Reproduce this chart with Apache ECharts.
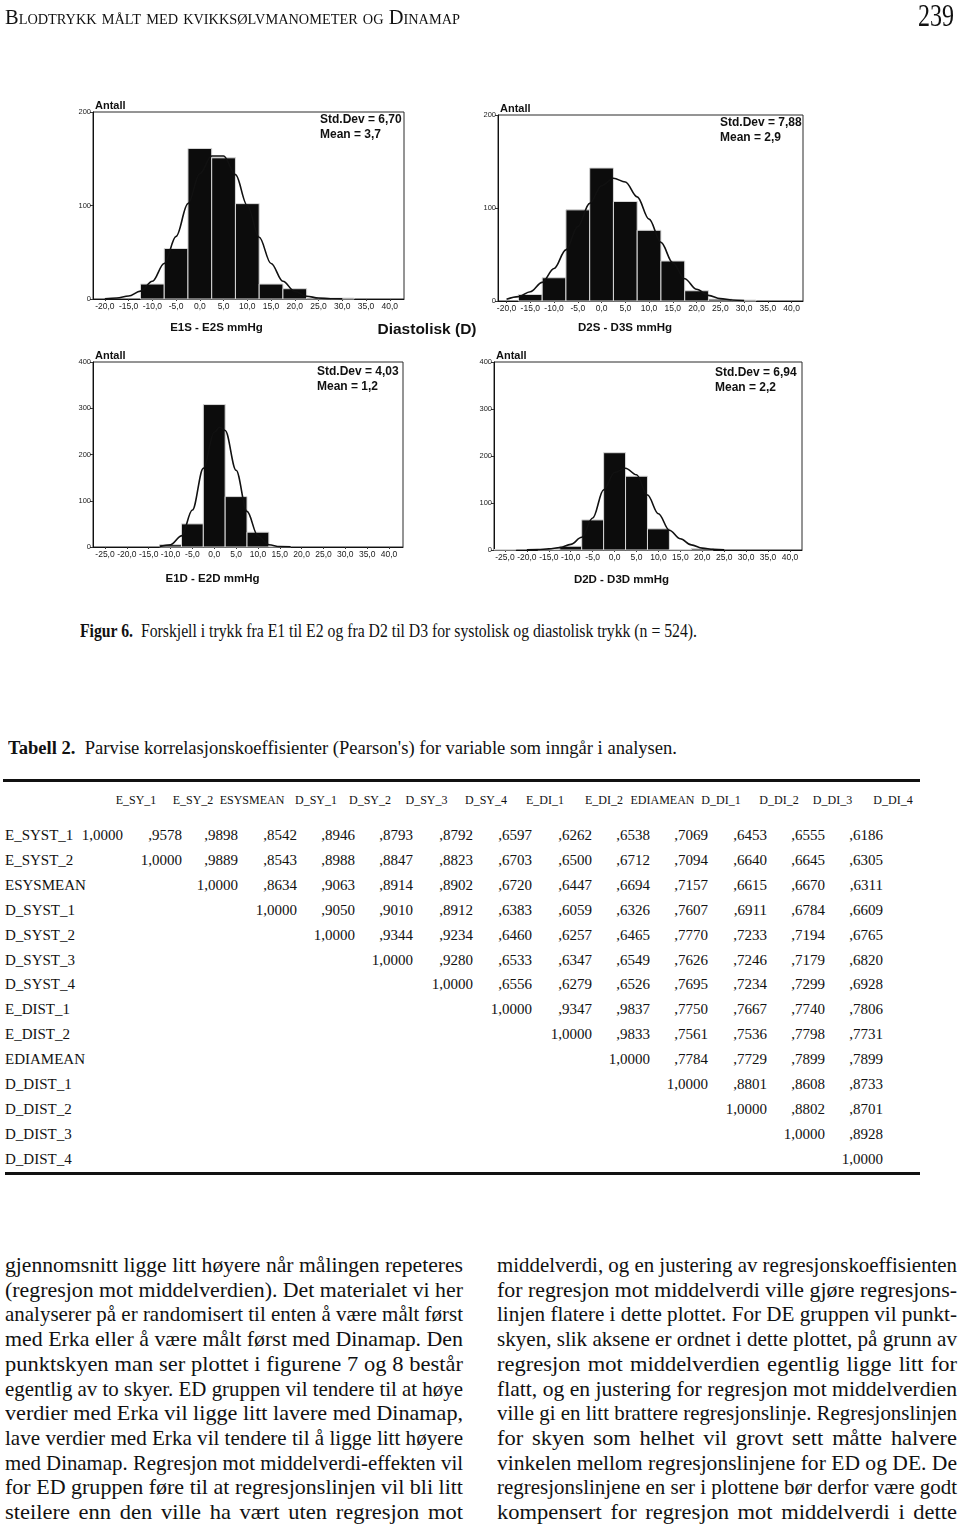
<!DOCTYPE html>
<html><head><meta charset="utf-8">
<script src="https://cdn.jsdelivr.net/npm/echarts@6/dist/echarts.min.js"></script>
<style>
html,body{margin:0;padding:0;background:#fff;}
body{width:960px;height:1527px;position:relative;overflow:hidden;font-family:"Liberation Serif","Times New Roman",serif;color:#111;}
#chart{position:absolute;left:0;top:0;width:960px;height:600px;}
.t{position:absolute;white-space:nowrap;}
.rule{position:absolute;background:#111;}
</style></head><body>
<div id="chart"></div>
<script>
// ---------------- DATA ----------------
const binWidth = 5;
const ticksA = [-20,-15,-10,-5,0,5,10,15,20,25,30,35,40];
const ticksB = [-25,-20,-15,-10,-5,0,5,10,15,20,25,30,35,40];

const e1sBins   = [-10,-5,0,5,10,15,20,25,30];
const e1sCounts = [16,54,161,151,102,16,11,1,1];
const e1sCurveX = [-20,-17.5,-15,-12.5,-10,-7.5,-5,-2.5,0,2.5,5,7.5,10,12.5,15,17.5,20,22.5,25,27.5,30];
const e1sCurveY = [0.3,1,3.2,8.4,19,38,67,102,134,153,153,133,100,66,38,19,8,3,1,0.3,0.1];
const e1sStats  = ['Std.Dev = 6,70','Mean = 3,7'];

const d2sBins   = [-15,-10,-5,0,5,10,15,20,25,30];
const d2sCounts = [7,25,98,143,107,76,43,11,2,1];
const d2sCurveX = [-20,-17.5,-15,-12.5,-10,-7.5,-5,-2.5,0,2.5,5,7.5,10,12.5,15,17.5,20,22.5,25,27.5,30];
const d2sCurveY = [2,4.7,10,20,35,55,80,105,124,132,128,112,88,63,41,24,12.6,6,2.6,1,0.4];
const d2sStats  = ['Std.Dev = 7,88','Mean = 2,9'];

const e1dBins   = [-10,-5,0,5,10,15];
const e1dCounts = [5,50,308,109,32,1];
const e1dCurveX = [-12.5,-10,-7.5,-5,-2.5,0,1.25,2.5,5,7.5,10,12.5,15,17.5];
const e1dCurveY = [0.8,5,24,80,170,248,259,252,166,77,24,5,0.8,0.2];
const e1dStats  = ['Std.Dev = 4,03','Mean = 1,2'];

const d2dBins   = [-25,-15,-10,-5,0,5,10,15,20];
const d2dCounts = [1,1,8,64,207,157,45,1,3];
const d2dCurveX = [-20,-17.5,-15,-12.5,-10,-7.5,-5,-2.5,0,2.5,5,7.5,10,12.5,15,17.5,20,22.5,25];
const d2dCurveY = [0.5,1,2.5,5,12,27,68,128,165,174,160,117,77,42,24,11,4,1.5,0.5];
const d2dStats  = ['Std.Dev = 6,94','Mean = 2,2'];

const axisTitles = ['E1S - E2S mmHg','D2S - D3S mmHg','E1D - E2D mmHg','D2D - D3D mmHg'];
const yName = 'Antall';
const middleLabel = 'Diastolisk (D)';

const headerTitle = 'Blodtrykk målt med kvikksølvmanometer og Dinamap';
const pageNumber = '239';
const figCaptionBold = 'Figur 6.';
const figCaptionText = 'Forskjell i trykk fra E1 til E2 og fra D2 til D3 for systolisk og diastolisk trykk (n = 524).';
const tabCaptionBold = 'Tabell 2.';
const tabCaptionText = "Parvise korrelasjonskoeffisienter (Pearson's) for variable som inngår i analysen.";

const colHeads = ['E_SY_1','E_SY_2','ESYSMEAN','D_SY_1','D_SY_2','D_SY_3','D_SY_4','E_DI_1','E_DI_2','EDIAMEAN','D_DI_1','D_DI_2','D_DI_3','D_DI_4'];
const rowHeads = ['E_SYST_1','E_SYST_2','ESYSMEAN','D_SYST_1','D_SYST_2','D_SYST_3','D_SYST_4','E_DIST_1','E_DIST_2','EDIAMEAN','D_DIST_1','D_DIST_2','D_DIST_3','D_DIST_4'];
const corrE_SYST_1 = ['1,0000',',9578',',9898',',8542',',8946',',8793',',8792',',6597',',6262',',6538',',7069',',6453',',6555',',6186'];
const corrE_SYST_2 = ['1,0000',',9889',',8543',',8988',',8847',',8823',',6703',',6500',',6712',',7094',',6640',',6645',',6305'];
const corrESYSMEAN = ['1,0000',',8634',',9063',',8914',',8902',',6720',',6447',',6694',',7157',',6615',',6670',',6311'];
const corrD_SYST_1 = ['1,0000',',9050',',9010',',8912',',6383',',6059',',6326',',7607',',6911',',6784',',6609'];
const corrD_SYST_2 = ['1,0000',',9344',',9234',',6460',',6257',',6465',',7770',',7233',',7194',',6765'];
const corrD_SYST_3 = ['1,0000',',9280',',6533',',6347',',6549',',7626',',7246',',7179',',6820'];
const corrD_SYST_4 = ['1,0000',',6556',',6279',',6526',',7695',',7234',',7299',',6928'];
const corrE_DIST_1 = ['1,0000',',9347',',9837',',7750',',7667',',7740',',7806'];
const corrE_DIST_2 = ['1,0000',',9833',',7561',',7536',',7798',',7731'];
const corrEDIAMEAN = ['1,0000',',7784',',7729',',7899',',7899'];
const corrD_DIST_1 = ['1,0000',',8801',',8608',',8733'];
const corrD_DIST_2 = ['1,0000',',8802',',8701'];
const corrD_DIST_3 = ['1,0000',',8928'];
const corrD_DIST_4 = ['1,0000'];

const bodyLeft = [
'gjennomsnitt ligge litt høyere når målingen repeteres',
'(regresjon mot middelverdien). Det materialet vi her',
'analyserer på er randomisert til enten å være målt først',
'med Erka eller å være målt først med Dinamap. Den',
'punktskyen man ser plottet i figurene 7 og 8 består',
'egentlig av to skyer. ED gruppen vil tendere til at høye',
'verdier med Erka vil ligge litt lavere med Dinamap,',
'lave verdier med Erka vil tendere til å ligge litt høyere',
'med Dinamap. Regresjon mot middelverdi-effekten vil',
'for ED gruppen føre til at regresjonslinjen vil bli litt',
'steilere enn den ville ha vært uten regresjon mot'];
const bodyRight = [
'middelverdi, og en justering av regresjonskoeffisienten',
'for regresjon mot middelverdi ville gjøre regresjons-',
'linjen flatere i dette plottet. For DE gruppen vil punkt-',
'skyen, slik aksene er ordnet i dette plottet, på grunn av',
'regresjon mot middelverdien egentlig ligge litt for',
'flatt, og en justering for regresjon mot middelverdien',
'ville gi en litt brattere regresjonslinje. Regresjonslinjen',
'for skyen som helhet vil grovt sett måtte halvere',
'vinkelen mellom regresjonslinjene for ED og DE. De',
'regresjonslinjene en ser i plottene bør derfor være godt',
'kompensert for regresjon mot middelverdi i dette'];

// ---------------- CHARTS ----------------
const SANS = '"Liberation Sans", Arial, sans-serif';
const panels = [
  {bins:e1sBins, counts:e1sCounts, cx:e1sCurveX, cy:e1sCurveY, stats:e1sStats, ticks:ticksA, ymax:200,
   grid:{left:93, top:112, width:311, height:187}, xmin:-22.5, xmax:43, statPos:[320,112.5], title:[216.5,328]},
  {bins:d2sBins, counts:d2sCounts, cx:d2sCurveX, cy:d2sCurveY, stats:d2sStats, ticks:ticksA, ymax:200,
   grid:{left:498, top:115, width:305, height:186}, xmin:-21.8, xmax:42.4, statPos:[720,115.5], title:[625,328]},
  {bins:e1dBins, counts:e1dCounts, cx:e1dCurveX, cy:e1dCurveY, stats:e1dStats, ticks:ticksB, ymax:400,
   grid:{left:93, top:362, width:310, height:185}, xmin:-27.75, xmax:43.2, statPos:[317,364.5], title:[212.5,579]},
  {bins:d2dBins, counts:d2dCounts, cx:d2dCurveX, cy:d2dCurveY, stats:d2dStats, ticks:ticksB, ymax:400,
   grid:{left:494, top:362, width:308, height:188}, xmin:-27.5, xmax:42.74, statPos:[715,365.5], title:[621.5,580]}
];

const option = {animation:false, grid:[], xAxis:[], yAxis:[], series:[], graphic:[]};
panels.forEach((p, i) => {
  option.grid.push(Object.assign({show:true, borderColor:'#2a2a2a', borderWidth:1, backgroundColor:'#fff'}, p.grid));
  option.xAxis.push({
    gridIndex:i, type:'value', min:p.xmin, max:p.xmax,
    axisLine:{show:true, onZero:false, lineStyle:{color:'#111', width:1}},
    axisTick:{show:true, customValues:p.ticks, length:2, lineStyle:{color:'#333'}},
    axisLabel:{customValues:p.ticks, formatter:v => v.toFixed(1).replace('.', ','), fontSize:8.5, color:'#1a1a1a', margin:3, fontFamily:SANS},
    splitLine:{show:false}
  });
  option.yAxis.push({
    gridIndex:i, type:'value', min:0, max:p.ymax, interval:100,
    axisLine:{show:true, onZero:false, lineStyle:{color:'#111', width:1}},
    axisTick:{show:true, length:3, lineStyle:{color:'#333'}},
    axisLabel:{fontSize:7.5, color:'#1a1a1a', margin:2, fontFamily:SANS},
    splitLine:{show:false},
    name:yName, nameLocation:'end', nameGap:1,
    nameTextStyle:{align:'left', verticalAlign:'bottom', fontWeight:'bold', fontSize:11, color:'#111', fontFamily:SANS, padding:[0,0,0,2]}
  });
  option.series.push({
    type:'custom', xAxisIndex:i, yAxisIndex:i, z:2,
    data:p.bins.map((b,k) => [b, p.counts[k]]),
    encode:{x:0, y:1},
    renderItem:(params, api) => {
      const x = api.value(0), y = api.value(1);
      const a = api.coord([x - binWidth/2, y]);
      const b = api.coord([x + binWidth/2, 0]);
      return {type:'rect', shape:{x:a[0], y:a[1], width:b[0]-a[0], height:b[1]-a[1]},
              style:{fill:'#0c0c0c', stroke:'#d8d8d8', lineWidth:1}};
    }
  });
  option.series.push({
    type:'line', xAxisIndex:i, yAxisIndex:i, z:3,
    data:p.cx.map((x,k) => [x, p.cy[k]]),
    smooth:0.35, smoothMonotone:'x', symbol:'none',
    lineStyle:{color:'#111', width:1.6}
  });
  option.graphic.push({type:'text', x:p.statPos[0], y:p.statPos[1], z:10,
    style:{text:p.stats.join('\n'), font:'bold 12px ' + SANS, lineHeight:15, fill:'#111', verticalAlign:'top', align:'left'}});
  option.graphic.push({type:'text', x:p.title[0], y:p.title[1], z:10,
    style:{text:axisTitles[i], font:'bold 11.5px ' + SANS, fill:'#111', align:'center', verticalAlign:'middle'}});
});
option.graphic.push({type:'text', x:427, y:330, z:10,
  style:{text:middleLabel, font:'bold 15.5px ' + SANS, fill:'#111', align:'center', verticalAlign:'middle'}});

const chart = echarts.init(document.getElementById('chart'), null, {renderer:'canvas'});
chart.setOption(option);

// ---------------- PAGE TEXT ----------------
function addText(txt, x, yc, font, lh) {
  const el = document.createElement('div');
  el.className = 't';
  el.style.font = font;
  el.style.lineHeight = lh + 'px';
  el.style.left = x + 'px';
  el.style.top = (yc - lh/2) + 'px';
  if (Array.isArray(txt)) {
    txt.forEach(part => {
      const s = document.createElement('span');
      s.textContent = part.t;
      if (part.b) s.style.fontWeight = 'bold';
      el.appendChild(s);
    });
  } else el.textContent = txt;
  document.body.appendChild(el);
  return el;
}
function fit(el, w) {
  const nat = el.getBoundingClientRect().width;
  el.style.transformOrigin = '0 50%';
  el.style.transform = 'scaleX(' + (w/nat) + ')';
}
// justify with a base horizontal stretch s; extra room goes into word spacing
function justify(el, w, s) {
  const nat = el.getBoundingClientRect().width;
  const n = (el.textContent.match(/ /g) || []).length;
  el.style.transformOrigin = '0 50%';
  if (nat * s <= w && n > 0) {
    el.style.transform = 'scaleX(' + s + ')';
    el.style.wordSpacing = ((w - nat * s) / (n * s)) + 'px';
  } else {
    el.style.transform = 'scaleX(' + (w / nat) + ')';
  }
}
function rightAt(el, r) { el.style.left = (r - el.getBoundingClientRect().width) + 'px'; }
function centerAt(el, c) { el.style.left = (c - el.getBoundingClientRect().width/2) + 'px'; }
function rule(x, y, w, h) {
  const d = document.createElement('div'); d.className = 'rule';
  Object.assign(d.style, {left:x+'px', top:y+'px', width:w+'px', height:h+'px'});
  document.body.appendChild(d);
}

const SERIF = '"Liberation Serif","Times New Roman",serif';
// running header
fit(addText(headerTitle, 5, 17, 'small-caps 20px ' + SERIF, 24), 455);
fit(addText(pageNumber, 918, 15, '32px ' + SERIF, 36), 36);
// captions
fit(addText([{t:figCaptionBold, b:true},{t:'\u00a0\u00a0' + figCaptionText}], 80, 631, '18px ' + SERIF, 22), 617);
fit(addText([{t:tabCaptionBold, b:true},{t:'\u00a0\u00a0' + tabCaptionText}], 8, 748, '18.5px ' + SERIF, 22), 669);

// table
const corrRows = [corrE_SYST_1,corrE_SYST_2,corrESYSMEAN,corrD_SYST_1,corrD_SYST_2,corrD_SYST_3,corrD_SYST_4,
                  corrE_DIST_1,corrE_DIST_2,corrEDIAMEAN,corrD_DIST_1,corrD_DIST_2,corrD_DIST_3,corrD_DIST_4];
const headCenter = [136,193,252,316,370,426.5,486,545,604,662.5,721,779,832.5,893];
const colRight = [123,182,238,297,355,413,473,532,592,650,708,767,825,883];
rule(3, 779, 917, 2.5);
colHeads.forEach((h, j) => centerAt(addText(h, 0, 800, '12px ' + SERIF, 16), headCenter[j]));
rowHeads.forEach((r, i) => {
  const yc = 835 + i * 24.9;
  addText(r, 5, yc, '15px ' + SERIF, 18);
  corrRows[i].forEach((v, k) => rightAt(addText(v, 0, yc, '15px ' + SERIF, 18), colRight[i + k]));
});
rule(5, 1172, 915, 3);

// body text
bodyLeft.forEach((l, k) => justify(addText(l, 5, 1265 + k*24.7, '21px ' + SERIF, 24), 458, 1.07));
bodyRight.forEach((l, k) => justify(addText(l, 497, 1265 + k*24.7, '21px ' + SERIF, 24), 460, 1.07));
</script>
</body></html>
